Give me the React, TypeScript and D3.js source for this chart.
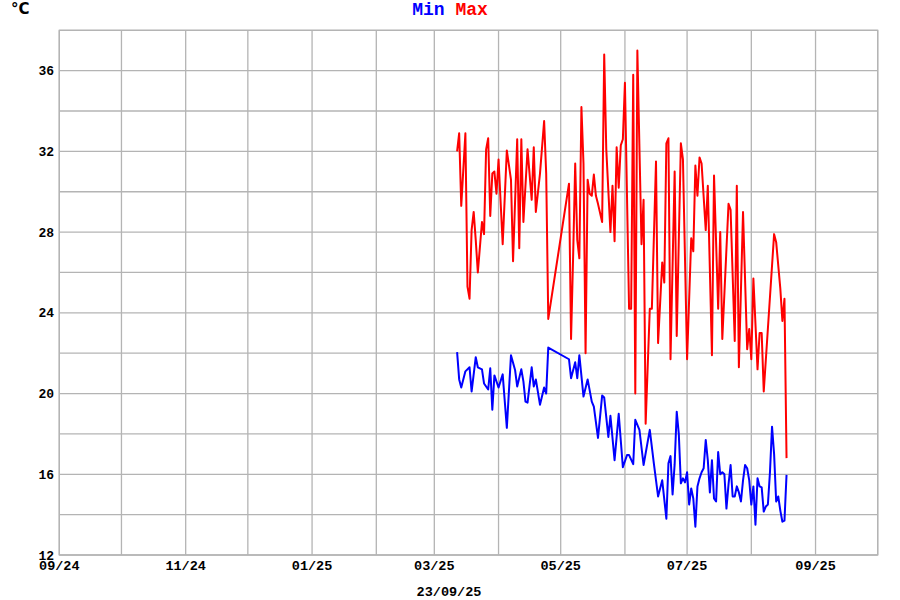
import React from "react";
import * as d3 from "d3";

// ---- data ----
const YEAR = "2025";

const maxDates = [
  "03-12","03-13","03-14","03-16","03-17","03-18","03-19","03-20","03-21","03-22",
  "03-24","03-25","03-26","03-27","03-28","03-29","03-30","03-31","04-01","04-03",
  "04-05","04-07","04-08","04-10","04-11","04-12","04-13","04-15","04-17","04-18",
  "04-19","04-21","04-23","04-24","04-25",
  "05-05","05-06","05-07","05-08","05-09","05-10","05-11","05-12","05-13","05-14",
  "05-15","05-16","05-17","05-18","05-19","05-21","05-22","05-23","05-25","05-26",
  "05-27","05-28","05-29","05-30","05-31","06-01","06-03","06-04","06-05","06-06",
  "06-07","06-09","06-10","06-11","06-13","06-14","06-16","06-17","06-19","06-20",
  "06-21","06-22","06-23","06-25","06-26","06-28","06-29","07-01","07-03","07-04",
  "07-05","07-06","07-07","07-08","07-10","07-11","07-13","07-14","07-16","07-17",
  "07-18","07-21","07-22","07-24","07-25","07-26","07-28","07-30","07-31","08-01",
  "08-02","08-04","08-05","08-06","08-07","08-12","08-13","08-15","08-16","08-17",
  "08-18",
];
const maxValues = [
  32.0, 32.9, 29.3, 32.9, 25.3, 24.7, 28.1, 29.0, 27.6, 26.0,
  28.5, 27.9, 32.1, 32.65, 28.8, 30.9, 31.0, 29.9, 31.6, 27.4,
  32.05, 30.6, 26.56, 32.6, 27.2, 32.6, 28.5, 32.1, 29.6, 32.2,
  29.0, 30.9, 33.5, 30.9, 23.7,
  30.4, 22.7, 26.8, 31.4, 27.6, 26.7, 34.2, 31.4, 22.0, 30.6,
  29.9, 29.8, 30.85, 29.8, 29.4, 28.5, 36.8, 32.1, 28.0, 30.3,
  27.55, 32.2, 30.2, 32.3, 32.6, 35.4, 24.2, 24.2, 35.8, 20.0,
  37.0, 27.4, 29.6, 18.5, 24.2, 24.2, 31.5, 22.5, 26.5, 25.5,
  32.4, 32.65, 21.7, 31.0, 22.85, 32.4, 31.6, 21.7, 27.7, 27.05,
  31.3, 29.8, 31.7, 31.4, 28.1, 30.3, 21.9, 30.8, 24.2, 28.0,
  22.7, 29.4, 29.1, 22.6, 30.3, 21.3, 29.0, 22.2, 23.2, 21.7,
  25.7, 21.2, 23.0, 23.0, 20.1, 27.9, 27.5, 25.2, 23.6, 24.7,
  16.8,
];

const minDates = [
  "03-12","03-13","03-14","03-16","03-18","03-19","03-21","03-22","03-24","03-25",
  "03-27","03-28","03-29","03-30","04-01","04-03","04-05","04-07","04-09","04-10",
  "04-12","04-13","04-14","04-15","04-17","04-18","04-19","04-21","04-23","04-24",
  "04-25",
  "05-05","05-06","05-08","05-09","05-10","05-12","05-14","05-16","05-17","05-19",
  "05-21","05-22","05-24","05-25","05-27","05-29","05-31","06-02","06-03","06-05",
  "06-06","06-08","06-10","06-13","06-15","06-17","06-19","06-21","06-22","06-23",
  "06-24","06-25","06-26","06-27","06-28","06-29","06-30","07-01","07-02","07-03",
  "07-04","07-05","07-06","07-07","07-08","07-09","07-10","07-11","07-12","07-13",
  "07-14","07-15","07-16","07-17","07-18","07-19","07-20","07-21","07-22","07-23",
  "07-24","07-25","07-26","07-27","07-28","07-29","07-30","07-31","08-01","08-02",
  "08-03","08-04","08-05","08-06","08-07","08-08","08-09","08-10","08-11","08-12",
  "08-13","08-14","08-15","08-16","08-17","08-18",
];
const minValues = [
  22.05, 20.7, 20.3, 21.1, 21.3, 20.1, 21.8, 21.3, 21.2, 20.5,
  20.2, 21.25, 19.2, 20.9, 20.3, 20.95, 18.3, 21.9, 21.15, 20.35,
  21.2, 20.6, 19.6, 19.55, 21.3, 20.35, 20.7, 19.45, 20.3, 20.0,
  22.28,
  21.7, 20.76, 21.55, 20.76, 21.9, 19.85, 20.7, 19.6, 19.35, 17.8,
  19.9, 19.8, 17.85, 18.9, 16.7, 19.0, 16.35, 16.95, 16.95, 16.5,
  18.7, 18.2, 16.46, 18.2, 16.5, 14.9, 15.7, 13.8, 16.55, 16.9,
  15.0, 16.5, 19.1, 18.0, 15.55, 15.8, 15.6, 16.1, 14.5, 15.3,
  14.8, 13.4, 15.4, 15.8, 16.1, 16.3, 17.7, 16.7, 15.1, 16.7,
  14.8, 14.65, 17.1, 16.0, 16.1, 16.0, 14.3, 15.5, 16.46, 14.9,
  14.9, 15.4, 15.1, 14.65, 15.7, 16.46, 16.3, 15.7, 14.5, 15.4,
  13.5, 15.8, 15.4, 15.35, 14.15, 14.4, 14.5, 16.1, 18.36, 17.0,
  14.65, 14.9, 14.2, 13.65, 13.7, 15.97,
];

const yTickValues = [12, 16, 20, 24, 28, 32, 36];
const xTickDates = ["2024-09-01", "2024-11-01", "2025-01-01", "2025-03-01", "2025-05-01", "2025-07-01", "2025-09-01"];
const xTickLabels = ["09/24", "11/24", "01/25", "03/25", "05/25", "07/25", "09/25"];
const seriesNames = ["Min", "Max"];
const unitLabel = "°C";
const footerLabel = "23/09/25";

// ---- layout ----
const W = 900;
const H = 600;
const LEFT = 59.3;
const RIGHT = 877.7;
const TOP = 30.3;
const BOTTOM = 555;
const GRID = "#b4b4b4";
const MONO = "'Liberation Mono', 'Courier New', monospace";

const parse = d3.timeParse("%Y-%m-%d");

export default function App() {
  const x = d3
    .scaleTime()
    .domain([new Date(2024, 8, 1), new Date(2025, 9, 1)])
    .range([LEFT, RIGHT]);
  const y = d3.scaleLinear().domain([12, 38]).range([BOTTOM, TOP]);

  const monthLines = d3.timeMonth.range(new Date(2024, 8, 1), new Date(2025, 9, 2));
  const hLines = d3.range(12, 38.01, 2);

  const maxPts: [Date, number][] = maxDates.map((d, i) => [parse(`${YEAR}-${d}`) as Date, maxValues[i]]);
  const minPts: [Date, number][] = minDates.map((d, i) => [parse(`${YEAR}-${d}`) as Date, minValues[i]]);

  const line = d3
    .line<[Date, number]>()
    .x((d) => x(d[0]))
    .y((d) => y(d[1]));

  return (
    <svg
      width={W}
      height={H}
      style={{ position: "absolute", left: 0, top: 0, background: "#fff", display: "block" }}
    >
      <rect x={0} y={0} width={W} height={H} fill="#fff" />
      {/* grid */}
      {hLines.map((v) => (
        <line key={`h${v}`} x1={LEFT} x2={RIGHT} y1={y(v)} y2={y(v)} stroke={GRID} strokeWidth={1.3} />
      ))}
      {monthLines.map((d) => (
        <line
          key={`v${d.getTime()}`}
          x1={x(d)}
          x2={x(d)}
          y1={TOP}
          y2={BOTTOM}
          stroke={GRID}
          strokeWidth={1.3}
        />
      ))}
      <rect x={LEFT} y={TOP} width={RIGHT - LEFT} height={BOTTOM - TOP} fill="none" stroke={GRID} strokeWidth={1.3} />

      {/* series */}
      <path d={line(minPts) || ""} fill="none" stroke="#0000ff" strokeWidth={2} strokeLinejoin="round" />
      <path d={line(maxPts) || ""} fill="none" stroke="#ff0000" strokeWidth={2} strokeLinejoin="round" />

      {/* y tick labels */}
      {yTickValues.map((v) => (
        <text
          key={`yl${v}`}
          x={54}
          y={y(v) + 4.5}
          textAnchor="end"
          fontFamily={MONO}
          fontWeight="bold"
          fontSize={13}
          fill="#000"
        >
          {v}
        </text>
      ))}
      {/* x tick labels */}
      {xTickDates.map((s, i) => (
        <text
          key={`xl${s}`}
          x={x(parse(s) as Date)}
          y={570}
          textAnchor="middle"
          fontFamily={MONO}
          fontWeight="bold"
          fontSize={13.5}
          fill="#000"
        >
          {xTickLabels[i]}
        </text>
      ))}

      {/* unit */}
      <text x={11} y={14} fontFamily="'DejaVu Sans', sans-serif" fontWeight="bold" fontSize={15} fill="#000">
        {unitLabel}
      </text>

      {/* legend */}
      <text x={450} y={15} textAnchor="middle" fontFamily={MONO} fontWeight="bold" fontSize={18}>
        <tspan fill="#0000ff">{seriesNames[0]}</tspan>
        <tspan fill="#000"> </tspan>
        <tspan fill="#ff0000">{seriesNames[1]}</tspan>
      </text>

      {/* footer date */}
      <text x={449} y={596} textAnchor="middle" fontFamily={MONO} fontWeight="bold" fontSize={13.5} fill="#000">
        {footerLabel}
      </text>
    </svg>
  );
}
